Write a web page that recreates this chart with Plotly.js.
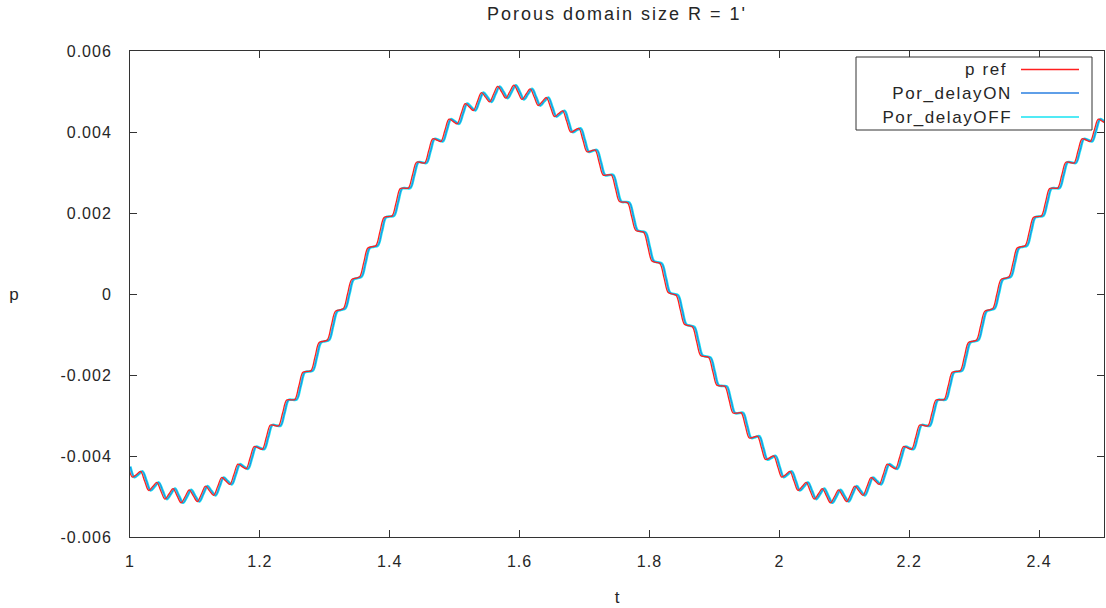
<!DOCTYPE html>
<html>
<head>
<meta charset="utf-8">
<script src="https://cdn.plot.ly/plotly-3.0.1.min.js"></script>
<style>
  html, body { margin: 0; padding: 0; background: #fff; }
  #chart { width: 1106px; height: 608px; }
  /* wide, airy lettering for all chart text */
  #chart .xtick text, #chart .ytick text { letter-spacing: 1px; }
  #chart .annotation-text { letter-spacing: 1.6px; }
  #chart .gtitle { letter-spacing: 2px; }
</style>
</head>
<body>
<div id="chart"></div>
<script>
// Sample times (s) for the reference pressure signal
const tRef = [
  0.9975, 1.00375, 1.01, 1.01625, 1.0225, 1.02875, 1.035, 1.04125,
  1.0475, 1.05375, 1.06, 1.06625, 1.0725, 1.07875, 1.085, 1.09125,
  1.0975, 1.10375, 1.11, 1.11625, 1.1225, 1.12875, 1.135, 1.14125,
  1.1475, 1.15375, 1.16, 1.16625, 1.1725, 1.17875, 1.185, 1.19125,
  1.1975, 1.20375, 1.21, 1.21625, 1.2225, 1.22875, 1.235, 1.24125,
  1.2475, 1.25375, 1.26, 1.26625, 1.2725, 1.27875, 1.285, 1.29125,
  1.2975, 1.30375, 1.31, 1.31625, 1.3225, 1.32875, 1.335, 1.34125,
  1.3475, 1.35375, 1.36, 1.36625, 1.3725, 1.37875, 1.385, 1.39125,
  1.3975, 1.40375, 1.41, 1.41625, 1.4225, 1.42875, 1.435, 1.44125,
  1.4475, 1.45375, 1.46, 1.46625, 1.4725, 1.47875, 1.485, 1.49125,
  1.4975, 1.50375, 1.51, 1.51625, 1.5225, 1.52875, 1.535, 1.54125,
  1.5475, 1.55375, 1.56, 1.56625, 1.5725, 1.57875, 1.585, 1.59125,
  1.5975, 1.60375, 1.61, 1.61625, 1.6225, 1.62875, 1.635, 1.64125,
  1.6475, 1.65375, 1.66, 1.66625, 1.6725, 1.67875, 1.685, 1.69125,
  1.6975, 1.70375, 1.71, 1.71625, 1.7225, 1.72875, 1.735, 1.74125,
  1.7475, 1.75375, 1.76, 1.76625, 1.7725, 1.77875, 1.785, 1.79125,
  1.7975, 1.80375, 1.81, 1.81625, 1.8225, 1.82875, 1.835, 1.84125,
  1.8475, 1.85375, 1.86, 1.86625, 1.8725, 1.87875, 1.885, 1.89125,
  1.8975, 1.90375, 1.91, 1.91625, 1.9225, 1.92875, 1.935, 1.94125,
  1.9475, 1.95375, 1.96, 1.96625, 1.9725, 1.97875, 1.985, 1.99125,
  1.9975, 2.00375, 2.01, 2.01625, 2.0225, 2.02875, 2.035, 2.04125,
  2.0475, 2.05375, 2.06, 2.06625, 2.0725, 2.07875, 2.085, 2.09125,
  2.0975, 2.10375, 2.11, 2.11625, 2.1225, 2.12875, 2.135, 2.14125,
  2.1475, 2.15375, 2.16, 2.16625, 2.1725, 2.17875, 2.185, 2.19125,
  2.1975, 2.20375, 2.21, 2.21625, 2.2225, 2.22875, 2.235, 2.24125,
  2.2475, 2.25375, 2.26, 2.26625, 2.2725, 2.27875, 2.285, 2.29125,
  2.2975, 2.30375, 2.31, 2.31625, 2.3225, 2.32875, 2.335, 2.34125,
  2.3475, 2.35375, 2.36, 2.36625, 2.3725, 2.37875, 2.385, 2.39125,
  2.3975, 2.40375, 2.41, 2.41625, 2.4225, 2.42875, 2.435, 2.44125,
  2.4475, 2.45375, 2.46, 2.46625, 2.4725, 2.47875, 2.485, 2.49125,
  2.4975, 2.50375
];

// Sample times (s) for the porous-domain runs (slightly lagging the reference)
const tPor = [
  1.0005, 1.00675, 1.013, 1.01925, 1.0255, 1.03175, 1.038, 1.04425,
  1.0505, 1.05675, 1.063, 1.06925, 1.0755, 1.08175, 1.088, 1.09425,
  1.1005, 1.10675, 1.113, 1.11925, 1.1255, 1.13175, 1.138, 1.14425,
  1.1505, 1.15675, 1.163, 1.16925, 1.1755, 1.18175, 1.188, 1.19425,
  1.2005, 1.20675, 1.213, 1.21925, 1.2255, 1.23175, 1.238, 1.24425,
  1.2505, 1.25675, 1.263, 1.26925, 1.2755, 1.28175, 1.288, 1.29425,
  1.3005, 1.30675, 1.313, 1.31925, 1.3255, 1.33175, 1.338, 1.34425,
  1.3505, 1.35675, 1.363, 1.36925, 1.3755, 1.38175, 1.388, 1.39425,
  1.4005, 1.40675, 1.413, 1.41925, 1.4255, 1.43175, 1.438, 1.44425,
  1.4505, 1.45675, 1.463, 1.46925, 1.4755, 1.48175, 1.488, 1.49425,
  1.5005, 1.50675, 1.513, 1.51925, 1.5255, 1.53175, 1.538, 1.54425,
  1.5505, 1.55675, 1.563, 1.56925, 1.5755, 1.58175, 1.588, 1.59425,
  1.6005, 1.60675, 1.613, 1.61925, 1.6255, 1.63175, 1.638, 1.64425,
  1.6505, 1.65675, 1.663, 1.66925, 1.6755, 1.68175, 1.688, 1.69425,
  1.7005, 1.70675, 1.713, 1.71925, 1.7255, 1.73175, 1.738, 1.74425,
  1.7505, 1.75675, 1.763, 1.76925, 1.7755, 1.78175, 1.788, 1.79425,
  1.8005, 1.80675, 1.813, 1.81925, 1.8255, 1.83175, 1.838, 1.84425,
  1.8505, 1.85675, 1.863, 1.86925, 1.8755, 1.88175, 1.888, 1.89425,
  1.9005, 1.90675, 1.913, 1.91925, 1.9255, 1.93175, 1.938, 1.94425,
  1.9505, 1.95675, 1.963, 1.96925, 1.9755, 1.98175, 1.988, 1.99425,
  2.0005, 2.00675, 2.013, 2.01925, 2.0255, 2.03175, 2.038, 2.04425,
  2.0505, 2.05675, 2.063, 2.06925, 2.0755, 2.08175, 2.088, 2.09425,
  2.1005, 2.10675, 2.113, 2.11925, 2.1255, 2.13175, 2.138, 2.14425,
  2.1505, 2.15675, 2.163, 2.16925, 2.1755, 2.18175, 2.188, 2.19425,
  2.2005, 2.20675, 2.213, 2.21925, 2.2255, 2.23175, 2.238, 2.24425,
  2.2505, 2.25675, 2.263, 2.26925, 2.2755, 2.28175, 2.288, 2.29425,
  2.3005, 2.30675, 2.313, 2.31925, 2.3255, 2.33175, 2.338, 2.34425,
  2.3505, 2.35675, 2.363, 2.36925, 2.3755, 2.38175, 2.388, 2.39425,
  2.4005, 2.40675, 2.413, 2.41925, 2.4255, 2.43175, 2.438, 2.44425,
  2.4505, 2.45675, 2.463, 2.46925, 2.4755, 2.48175, 2.488, 2.49425,
  2.5005, 2.50675
];

// Pressure p at each sample (same waveform for the reference and the porous runs)
const pressure = [
  -0.004263, -0.004522, -0.004455, -0.004381, -0.004619, -0.004851, -0.004755, -0.004652,
  -0.004862, -0.005064, -0.004938, -0.004805, -0.004985, -0.005156, -0.005000, -0.004836,
  -0.004985, -0.005125, -0.004938, -0.004744, -0.004862, -0.004972, -0.004755, -0.004531,
  -0.004619, -0.004701, -0.004455, -0.004202, -0.004263, -0.004317, -0.004045, -0.003767,
  -0.003802, -0.003832, -0.003536, -0.003234, -0.003247, -0.003255, -0.002939, -0.002618,
  -0.002612, -0.002603, -0.002270, -0.001933, -0.001913, -0.001891, -0.001545, -0.001197,
  -0.001167, -0.001135, -0.000782, -0.000428, -0.000392, -0.000356, 0.000000, 0.000356,
  0.000392, 0.000428, 0.000782, 0.001135, 0.001167, 0.001197, 0.001545, 0.001891,
  0.001913, 0.001933, 0.002270, 0.002603, 0.002612, 0.002618, 0.002939, 0.003255,
  0.003247, 0.003234, 0.003536, 0.003832, 0.003802, 0.003767, 0.004045, 0.004317,
  0.004263, 0.004202, 0.004455, 0.004701, 0.004619, 0.004531, 0.004755, 0.004972,
  0.004862, 0.004744, 0.004938, 0.005125, 0.004985, 0.004836, 0.005000, 0.005156,
  0.004985, 0.004805, 0.004938, 0.005064, 0.004862, 0.004652, 0.004755, 0.004851,
  0.004619, 0.004381, 0.004455, 0.004522, 0.004263, 0.003997, 0.004045, 0.004087,
  0.003802, 0.003512, 0.003536, 0.003554, 0.003247, 0.002935, 0.002939, 0.002938,
  0.002612, 0.002283, 0.002270, 0.002253, 0.001913, 0.001571, 0.001545, 0.001517,
  0.001167, 0.000815, 0.000782, 0.000748, 0.000392, 0.000036, 0.000000, -0.000036,
  -0.000392, -0.000748, -0.000782, -0.000815, -0.001167, -0.001517, -0.001545, -0.001571,
  -0.001913, -0.002253, -0.002270, -0.002283, -0.002612, -0.002938, -0.002939, -0.002935,
  -0.003247, -0.003554, -0.003536, -0.003512, -0.003802, -0.004087, -0.004045, -0.003997,
  -0.004263, -0.004522, -0.004455, -0.004381, -0.004619, -0.004851, -0.004755, -0.004652,
  -0.004862, -0.005064, -0.004938, -0.004805, -0.004985, -0.005156, -0.005000, -0.004836,
  -0.004985, -0.005125, -0.004938, -0.004744, -0.004862, -0.004972, -0.004755, -0.004531,
  -0.004619, -0.004701, -0.004455, -0.004202, -0.004263, -0.004317, -0.004045, -0.003767,
  -0.003802, -0.003832, -0.003536, -0.003234, -0.003247, -0.003255, -0.002939, -0.002618,
  -0.002612, -0.002603, -0.002270, -0.001933, -0.001913, -0.001891, -0.001545, -0.001197,
  -0.001167, -0.001135, -0.000782, -0.000428, -0.000392, -0.000356, 0.000000, 0.000356,
  0.000392, 0.000428, 0.000782, 0.001135, 0.001167, 0.001197, 0.001545, 0.001891,
  0.001913, 0.001933, 0.002270, 0.002603, 0.002612, 0.002618, 0.002939, 0.003255,
  0.003247, 0.003234, 0.003536, 0.003832, 0.003802, 0.003767, 0.004045, 0.004317,
  0.004263, 0.004202
];

const seriesNames = ['p ref', 'Por_delayON', 'Por_delayOFF'];
const seriesColors = ['#ff1f1f', '#2a7fe0', '#17e3f2'];

const yTickVals = [-0.006, -0.004, -0.002, 0, 0.002, 0.004, 0.006];
const yTickText = ['-0.006', '-0.004', '-0.002', '0', '0.002', '0.004', '0.006'];
const xTickVals = [1, 1.2, 1.4, 1.6, 1.8, 2, 2.2, 2.4];
const xTickText = ['1', '1.2', '1.4', '1.6', '1.8', '2', '2.2', '2.4'];

const FONT = 'Liberation Sans, Arial, sans-serif';
const INK = '#262626';

// Plot-area geometry in pixels, used to place the framed key box
const W = 1106, H = 608;
const M = { l: 130, r: 2, t: 51, b: 71 };
const PW = W - M.l - M.r, PH = H - M.t - M.b;
const px = x => (x - M.l) / PW;
const py = y => (H - M.b - y) / PH;

const traces = [
  { x: tPor, y: pressure, name: seriesNames[2], mode: 'lines',
    line: { color: seriesColors[2], width: 2.6, shape: 'spline', smoothing: 1 } },
  { x: tPor, y: pressure, name: seriesNames[1], mode: 'lines',
    line: { color: seriesColors[1], width: 1, shape: 'spline', smoothing: 1 } },
  { x: tRef, y: pressure, name: seriesNames[0], mode: 'lines',
    line: { color: seriesColors[0], width: 1.3, shape: 'spline', smoothing: 1 } }
];

// Key: framed box at the top right, text right-aligned with a line sample after it
const keyRows = [69.5, 93, 117];
const shapes = [{
  type: 'rect', xref: 'paper', yref: 'paper',
  x0: px(856), x1: px(1092), y0: py(130), y1: py(57),
  line: { color: '#333', width: 1 }, fillcolor: '#fff', layer: 'above'
}];
const annotations = [];
seriesNames.forEach((name, i) => {
  shapes.push({
    type: 'line', xref: 'paper', yref: 'paper',
    x0: px(1021), x1: px(1079), y0: py(keyRows[i]), y1: py(keyRows[i]),
    line: { color: seriesColors[i], width: 1.5 }, layer: 'above'
  });
  annotations.push({
    xref: 'paper', yref: 'paper', x: px(1005), y: py(keyRows[i]),
    xanchor: 'right', yanchor: 'middle', showarrow: false, text: name,
    font: { family: FONT, size: 17, color: INK }
  });
});
annotations.push({
  xref: 'paper', yref: 'paper', x: px(14), y: py(294),
  xanchor: 'center', yanchor: 'middle', showarrow: false, text: 'p',
  font: { family: FONT, size: 17, color: INK }
});

const layout = {
  width: W, height: H,
  margin: M,
  paper_bgcolor: '#fff', plot_bgcolor: '#fff',
  showlegend: false,
  font: { family: FONT, size: 16, color: INK },
  title: {
    text: "Porous domain size R = 1'",
    font: { family: FONT, size: 18, color: INK },
    xref: 'paper', x: 0.5, xanchor: 'center',
    yref: 'container', y: 1 - 14 / H, yanchor: 'middle'
  },
  xaxis: {
    range: [1, 2.5], tickvals: xTickVals, ticktext: xTickText,
    ticks: 'inside', ticklen: 7, tickcolor: '#333', tickwidth: 1,
    showline: true, linecolor: '#333', linewidth: 1, mirror: 'ticks',
    showgrid: false, zeroline: false, ticklabelstandoff: 10,
    tickfont: { family: FONT, size: 16, color: INK },
    title: { text: 't', font: { family: FONT, size: 17, color: INK }, standoff: 21 }
  },
  yaxis: {
    range: [-0.006, 0.006], tickvals: yTickVals, ticktext: yTickText,
    ticks: 'inside', ticklen: 7, tickcolor: '#333', tickwidth: 1,
    showline: true, linecolor: '#333', linewidth: 1, mirror: 'ticks',
    showgrid: false, zeroline: false, ticklabelstandoff: 14,
    tickfont: { family: FONT, size: 16, color: INK }
  },
  shapes: shapes,
  annotations: annotations
};

Plotly.newPlot('chart', traces, layout, { staticPlot: true, displayModeBar: false });
</script>
</body>
</html>
